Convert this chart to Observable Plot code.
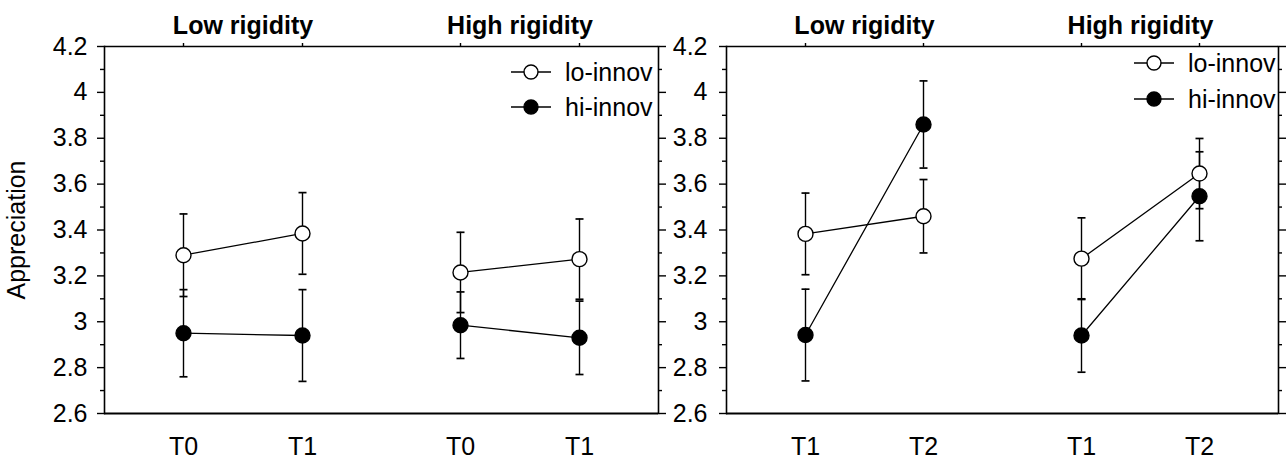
<!DOCTYPE html>
<html><head><meta charset="utf-8">
<script src="https://cdn.jsdelivr.net/npm/d3@7"></script>
<script src="https://cdn.jsdelivr.net/npm/@observablehq/plot@0.6"></script>
<style>
body{margin:0;background:#fff;font-family:"Liberation Sans",Arial,sans-serif;}
#wrap{position:relative;width:1286px;height:459px;display:flex;overflow:hidden;}
#wrap > svg{display:block;flex:none;}
#legend{position:absolute;left:0;top:0;pointer-events:none;}
</style></head><body><div id="wrap"></div>
<script>
// ---- data ----
const rigidity = ["Low rigidity", "High rigidity"];
const groups = ["lo-innov", "hi-innov"];
const timesLeft = ["T0", "T1"];
const timesRight = ["T1", "T2"];
// order: Low-first, Low-second, High-first, High-second
const leftLoMean = [3.29, 3.385, 3.215, 3.273];
const leftLoErr  = [0.18, 0.178, 0.175, 0.175];
const leftHiMean = [2.95, 2.94, 2.985, 2.93];
const leftHiErr  = [0.19, 0.2, 0.145, 0.16];
const rightLoMean = [3.383, 3.46, 3.275, 3.646];
const rightLoErr  = [0.178, 0.16, 0.178, 0.153];
const rightHiMean = [2.942, 3.86, 2.94, 3.547];
const rightHiErr  = [0.2, 0.19, 0.16, 0.194];
const yTicks = [2.6, 2.8, 3, 3.2, 3.4, 3.6, 3.8, 4, 4.2];
const yMinor = [2.7, 2.9, 3.1, 3.3, 3.5, 3.7, 3.9, 4.1];
const yLabel = "Appreciation";

const cap = {draw(ctx, size) { const r = Math.sqrt(size / Math.PI); ctx.moveTo(-r, 0); ctx.lineTo(r, 0); }};
const FONT = "'Liberation Sans', Arial, sans-serif";
const FS = 25;

function panel({times, loMean, loErr, hiMean, hiErr, width, marginLeft, tickPadding, label}) {
  const rows = [];
  rigidity.forEach((r, i) => times.forEach((t, j) => {
    const k = i * 2 + j;
    rows.push({rigidity: r, time: t, group: groups[0], mean: loMean[k], err: loErr[k]});
    rows.push({rigidity: r, time: t, group: groups[1], mean: hiMean[k], err: hiErr[k]});
  }));
  return Plot.plot({
    width, height: 459, marginLeft, marginRight: 8, marginTop: 46, marginBottom: 46,
    style: {fontFamily: FONT, background: "white", color: "black", overflow: "visible"},
    fx: {domain: rigidity, padding: 0, axis: null},
    x: {domain: times, type: "point", padding: 0.66, axis: null},
    y: {domain: [2.6, 4.2], axis: null},
    color: {domain: groups, range: ["white", "black"]},
    marks: [
      Plot.axisFx({anchor: "top", tickSize: 0, tickPadding: 13, fontSize: FS, fontWeight: "bold", label: null}),
      Plot.axisX({anchor: "top", tickSize: 4, tickFormat: () => "", label: null, strokeWidth: 1.4}),
      Plot.axisX({anchor: "bottom", tickSize: 0, tickPadding: 24, fontSize: FS, label: null}),
      Plot.axisY(yTicks, {anchor: "left", tickSize: 7, tickPadding, fontSize: FS, strokeWidth: 1.4,
        tickFormat: d => String(+d.toFixed(1)), label, labelAnchor: "center", labelOffset: 97, labelArrow: "none"}),
      Plot.axisY(yMinor, {anchor: "left", tickSize: 4, tickFormat: () => "", label: null, strokeWidth: 1.4}),
      Plot.axisY(yTicks, {anchor: "right", tickSize: 7, tickFormat: () => "", label: null, strokeWidth: 1.4}),
      Plot.axisY(yMinor, {anchor: "right", tickSize: 3, tickFormat: () => "", label: null, strokeWidth: 1.4}),
      Plot.ruleY([2.6], {strokeWidth: 2}),
      Plot.ruleY([4.2], {strokeWidth: 1.6}),
      Plot.frame({anchor: "left", facetAnchor: "left", strokeWidth: 1.6}),
      Plot.frame({anchor: "right", facetAnchor: "right", strokeWidth: 1.6}),
      Plot.ruleX(rows, {fx: "rigidity", x: "time", y1: d => d.mean - d.err, y2: d => d.mean + d.err, stroke: "black", strokeWidth: 1.4}),
      Plot.dot(rows, {fx: "rigidity", x: "time", y: d => d.mean + d.err, symbol: cap, r: 4, stroke: "black", strokeWidth: 1.7, fill: "none"}),
      Plot.dot(rows, {fx: "rigidity", x: "time", y: d => d.mean - d.err, symbol: cap, r: 4, stroke: "black", strokeWidth: 1.7, fill: "none"}),
      Plot.line(rows, {fx: "rigidity", x: "time", y: "mean", z: "group", stroke: "black", strokeWidth: 1.3}),
      Plot.dot(rows, {fx: "rigidity", x: "time", y: "mean", r: 7.5, fill: "group", stroke: "black", strokeWidth: 1.4})
    ]
  });
}

const wrap = document.getElementById("wrap");
wrap.append(panel({times: timesLeft, loMean: leftLoMean, loErr: leftLoErr, hiMean: leftHiMean, hiErr: leftHiErr,
  width: 666, marginLeft: 104, tickPadding: 10, label: yLabel}));
wrap.append(panel({times: timesRight, loMean: rightLoMean, loErr: rightLoErr, hiMean: rightHiMean, hiErr: rightHiErr,
  width: 620, marginLeft: 60, tickPadding: 12, label: null}));

// legends (one per panel)
const leg = d3.select(wrap).append("svg").attr("id", "legend").attr("width", 1286).attr("height", 459);
const legendSpots = [{cx: 531, ys: [72, 107]}, {cx: 1154, ys: [63, 99]}];
legendSpots.forEach(s => {
  groups.forEach((g, i) => {
    const y = s.ys[i];
    const gg = leg.append("g");
    gg.append("line").attr("x1", s.cx - 20).attr("x2", s.cx + 20).attr("y1", y).attr("y2", y).attr("stroke", "black").attr("stroke-width", 1.4);
    gg.append("circle").attr("cx", s.cx).attr("cy", y).attr("r", 7).attr("fill", i === 0 ? "white" : "black").attr("stroke", "black").attr("stroke-width", 1.4);
    gg.append("text").attr("x", s.cx + 34).attr("y", y).attr("dy", "0.35em").attr("font-size", FS).attr("font-family", FONT).text(g);
  });
});
</script></body></html>
